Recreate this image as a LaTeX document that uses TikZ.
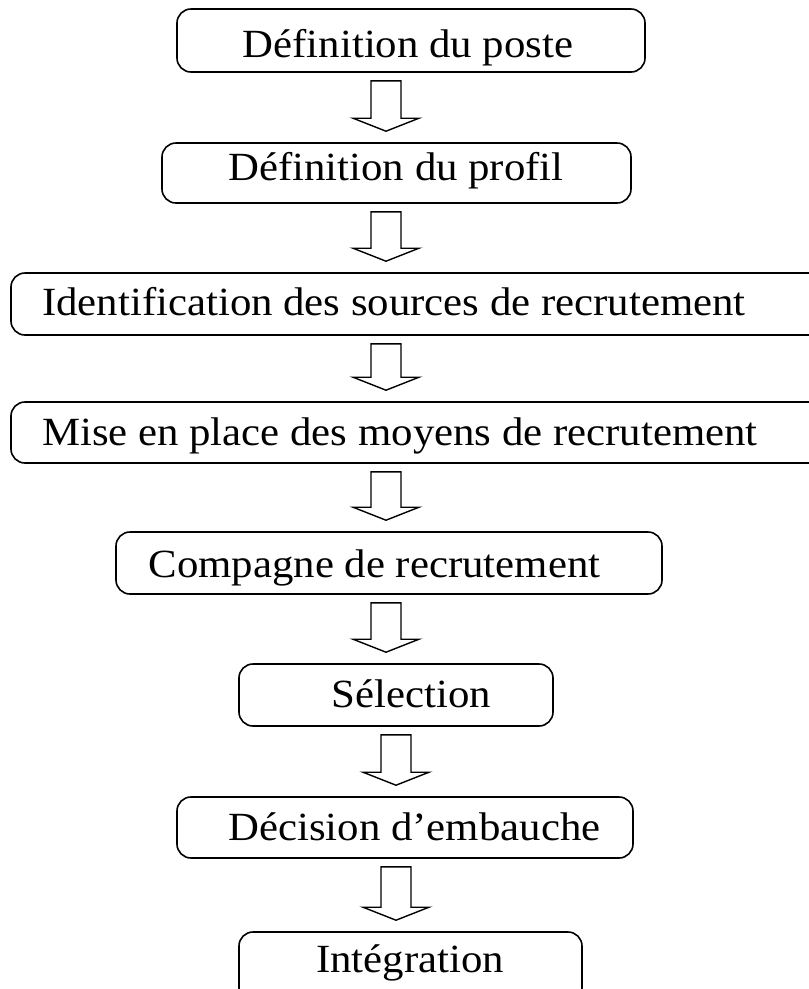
\documentclass[tikz,border=0pt]{standalone}
\usepackage{fontspec}
\setmainfont{Liberation Serif}[FakeStretch=1.07]
\usetikzlibrary{calc}

\tikzset{
  stepbox/.style={draw=black, line width=1.6pt, rounded corners=14pt,
    fill=white, inner sep=0pt},
  steptext/.style={inner sep=0pt, font=\fontsize{40}{44}\selectfont,
    text=black},
  flowarrow/.style={draw=black, line width=1.4pt, fill=white,
    line join=miter}
}

% hollow block arrow from box #1 down to box #2, axis at x = #3
\newcommand\blockarrow[3]{%
  \draw[flowarrow] let \p1=(#1.south), \p2=(#2.north) in
    (#3pt-15pt,\y1-8pt) -- (#3pt+15pt,\y1-8pt) -- (#3pt+15pt,\y2+24pt)
    -- (#3pt+33pt,\y2+24pt) -- (#3pt,\y2+11pt) -- (#3pt-33pt,\y2+24pt)
    -- (#3pt-15pt,\y2+24pt) -- cycle;}

\begin{document}
\begin{tikzpicture}[x=1pt, y=-1pt]
  \useasboundingbox (0,0) rectangle (809,989);
  \clip (0,0) rectangle (809,989);

  % process steps
  \node[stepbox, minimum width=468pt, minimum height=63pt] (b1) at (411,40.5) {};
  \node[stepbox, minimum width=469pt, minimum height=60pt] (b2) at (396.5,173) {};
  \node[stepbox, minimum width=829pt, minimum height=62pt] (b3) at (425.5,304) {};
  \node[stepbox, minimum width=829pt, minimum height=61pt] (b4) at (425.5,432.5) {};
  \node[stepbox, minimum width=546pt, minimum height=62pt] (b5) at (389,563) {};
  \node[stepbox, minimum width=314pt, minimum height=62pt] (b6) at (396,695) {};
  \node[stepbox, minimum width=456pt, minimum height=61pt] (b7) at (405,827.5) {};
  \node[stepbox, minimum width=343pt, minimum height=70pt] (b8) at (410.5,967) {};

  % step labels
  \node[steptext, anchor=base] (t1) at (408,57) {Définition du poste};
  \node[steptext, anchor=base] (t2) at (396,180) {Définition du profil};
  \node[steptext, anchor=base west] (t3) at (42,315) {Identification des sources de recrutement};
  \node[steptext, anchor=base west] (t4) at (42,445) {Mise en place des moyens de recrutement};
  \node[steptext, anchor=base] (t5) at (374.5,577) {Compagne de recrutement};
  \node[steptext, anchor=base] (t6) at (411.5,707) {Sélection};
  \node[steptext, anchor=base] (t7) at (414.5,840) {Décision d’embauche};
  \node[steptext, anchor=base] (t8) at (410,972) {Intégration};

  % connecting arrows
  \blockarrow{b1}{b2}{386}
  \blockarrow{b2}{b3}{386}
  \blockarrow{b3}{b4}{386}
  \blockarrow{b4}{b5}{386}
  \blockarrow{b5}{b6}{386}
  \blockarrow{b6}{b7}{396}
  \blockarrow{b7}{b8}{396}
\end{tikzpicture}
\end{document}
